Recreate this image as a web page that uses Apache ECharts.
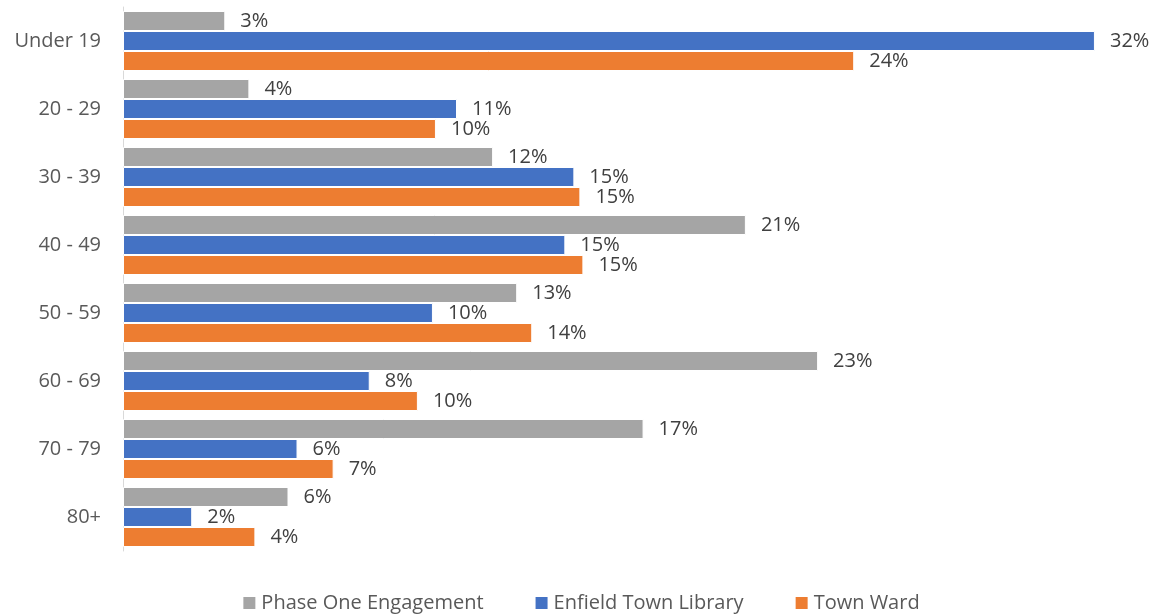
<!DOCTYPE html>
<html>
<head>
<meta charset="utf-8">
<script src="https://cdn.jsdelivr.net/npm/echarts@6/dist/echarts.min.js"></script>
<style>
html,body{margin:0;padding:0;background:#fff;}
#chart{width:1161px;height:616px;}
</style>
</head>
<body>
<div id="chart"></div>
<script>
var ageGroups = ['Under 19', '20 - 29', '30 - 39', '40 - 49', '50 - 59', '60 - 69', '70 - 79', '80+'];
var phaseOne = [3.4, 4.2, 12.3, 20.7, 13.1, 23.1, 17.3, 5.5];
var enfieldLibrary = [32.3, 11.1, 15.0, 14.7, 10.3, 8.2, 5.8, 2.3];
var townWard = [24.3, 10.4, 15.2, 15.3, 13.6, 9.8, 7.0, 4.4];

var chart = echarts.init(document.getElementById('chart'));
var font = 'Open Sans';

function mkSeries(name, data, color) {
	return {
		name: name,
		type: 'bar',
		data: data,
		barWidth: 20,
		barGap: '0%',
		itemStyle: { color: color, borderColor: '#fff', borderWidth: 1 },
		label: {
			show: true,
			position: 'right',
			distance: 15,
			color: '#404040',
			fontSize: 20,
			fontFamily: font,
			formatter: function (p) { return Math.round(p.value) + '%'; }
		}
	};
}

chart.setOption({
	animation: false,
	textStyle: { fontFamily: font },
	legend: {
		bottom: -2,
		left: 'center',
		itemWidth: 14,
		itemHeight: 14,
		itemGap: 50,
		icon: 'rect',
		textStyle: { color: '#595959', fontSize: 20, fontFamily: font },
		data: ['Phase One Engagement', 'Enfield Town Library', 'Town Ward']
	},
	grid: { left: 123, right: 48, top: 7, bottom: 65, containLabel: false },
	xAxis: {
		type: 'value',
		min: 0,
		max: 32.9,
		show: false,
		splitLine: { show: false }
	},
	yAxis: {
		type: 'category',
		inverse: true,
		data: ageGroups,
		axisLine: { show: true, lineStyle: { color: '#d9d9d9', width: 1 } },
		axisTick: { show: false },
		axisLabel: { color: '#595959', fontSize: 20, fontFamily: font, margin: 22 }
	},
	series: [
		mkSeries('Phase One Engagement', phaseOne, '#a5a5a5'),
		mkSeries('Enfield Town Library', enfieldLibrary, '#4472c4'),
		mkSeries('Town Ward', townWard, '#ed7d31')
	]
});
</script>
</body>
</html>
